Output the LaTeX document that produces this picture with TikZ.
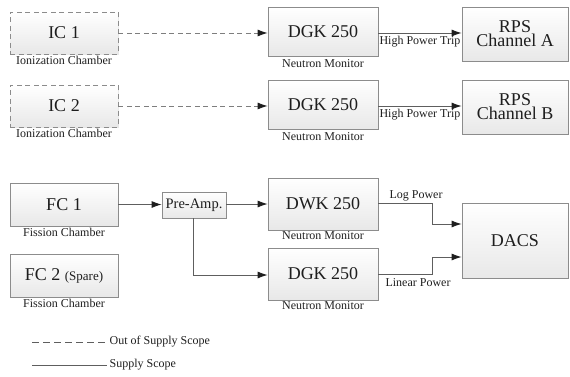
\documentclass[tikz,border=0pt]{standalone}
\usepackage{fontspec}
\setmainfont{Liberation Serif}
\newfontfamily\bigserif[Scale=1.5]{Liberation Serif}
\usetikzlibrary{arrows.meta,shadows,positioning}
\definecolor{boxline}{HTML}{8C8C8C}
\definecolor{conn}{HTML}{5E5E5E}
\definecolor{txt}{HTML}{1E1E1E}
\definecolor{shd}{HTML}{D2D2D2}
\tikzset{
  blk/.style={draw=boxline, line width=0.8pt, top color=white, bottom color=black!9,
    drop shadow={shadow xshift=1.2pt, shadow yshift=-1.2pt, fill=shd},
    text=txt, font=\bigserif\fontsize{12}{14}\selectfont, align=center, inner sep=0pt},
  dblk/.style={blk, dashed, dash pattern=on 5pt off 3.5pt},
  sub/.style={text=txt, font=\rmfamily\fontsize{12}{13}\selectfont, inner sep=0.5pt},
  sol/.style={draw=conn, line width=0.9pt, -{Latex[length=10pt,width=7pt,color=txt]}},
  dsh/.style={sol, dash pattern=on 5pt off 3.5pt, draw=boxline!90!black},
}
\begin{document}
\begin{tikzpicture}[x=1pt,y=-1pt]
\useasboundingbox (0,0) rectangle (570,377);
% boxes
\node[dblk, minimum width=108pt, minimum height=42pt] (ic1) at (64,33) {IC 1};
\node[dblk, minimum width=108pt, minimum height=42pt] (ic2) at (64,106) {IC 2};
\node[blk, minimum width=110pt, minimum height=49pt] (dgk1) at (323,31.5) {DGK 250};
\node[blk, minimum width=110pt, minimum height=49pt] (dgk2) at (323,104.5) {DGK 250};
\node[blk, minimum width=106pt, minimum height=54pt] (rpsa) at (515,34) {RPS\\Channel A};
\node[blk, minimum width=106pt, minimum height=54pt] (rpsb) at (515,107) {RPS\\Channel B};
\node[blk, minimum width=108pt, minimum height=43pt] (fc1) at (64,204.5) {FC 1};
\node[blk, minimum width=108pt, minimum height=43pt] (fc2) at (64,275.5) {FC 2 {\rmfamily\fontsize{13}{15}\selectfont(Spare)}};
\node[blk, minimum width=64pt, minimum height=26pt, font=\rmfamily\fontsize{14.5}{16}\selectfont] (pre) at (194,205) {Pre-Amp.};
\node[blk, minimum width=110pt, minimum height=52pt] (dwk) at (323,204) {DWK 250};
\node[blk, minimum width=110pt, minimum height=52pt] (dgk3) at (323,274) {DGK 250};
\node[blk, minimum width=106pt, minimum height=75pt] (dacs) at (515,240.5) {DACS};
% sub labels
\node[sub, below=1.5pt of ic1] (ic1l) {Ionization Chamber};
\node[sub, below=1.5pt of ic2] (ic2l) {Ionization Chamber};
\node[sub, below=2pt of dgk1] (dgk1l) {Neutron Monitor};
\node[sub, below=2pt of dgk2] (dgk2l) {Neutron Monitor};
\node[sub, below=1.5pt of fc1] (fc1l) {Fission Chamber};
\node[sub, below=1.5pt of fc2] (fc2l) {Fission Chamber};
\node[sub, below=0pt of dwk] (dwkl) {Neutron Monitor};
\node[sub, below=0pt of dgk3] (dgk3l) {Neutron Monitor};
% connectors
\draw[dsh] (ic1.east |- 0,33) -- (dgk1.west |- 0,33);
\draw[dsh] (ic2.east |- 0,106) -- (dgk2.west |- 0,106);
\draw[sol] (dgk1.east |- 0,33) -- node[sub, below=2pt] (hpt1) {High Power Trip} (rpsa.west |- 0,33);
\draw[sol] (dgk2.east |- 0,106) -- node[sub, below=2pt] (hpt2) {High Power Trip} (rpsb.west |- 0,106);
\draw[sol] (fc1.east) -- (pre.west |- fc1.east);
\draw[sol] (pre.east |- 0,204) -- (dwk.west |- 0,204);
\coordinate (pb) at (193,218);
\draw[sol] (pre.south -| pb) |- (dgk3.west |- 0,275);
\coordinate (j1) at (432,224);
\coordinate (j2) at (432,257);
\draw[sol] (dwk.east |- 0,203) -| (j1) -- (j1 -| dacs.west);
\draw[sol] (dgk3.east |- 0,274) -| (j2) -- (j2 -| dacs.west);
\node[sub] (logp) at (416,196) {Log Power};
\node[sub] (linp) at (418,283) {Linear Power};
% legend
\coordinate (l1a) at (32,342);
\coordinate (l1b) at (109,342);
\coordinate (l2a) at (32,365);
\coordinate (l2b) at (107,365);
\draw[draw=conn, line width=0.9pt, dash pattern=on 6.5pt off 4.5pt] (l1a) -- (l1b);
\draw[draw=conn, line width=0.9pt] (l2a) -- (l2b);
\node[sub, anchor=west] (leg1) at (l1b) {Out of Supply Scope};
\node[sub, anchor=west] (leg2) at ([xshift=2pt]l2b) {Supply Scope};
\end{tikzpicture}
\end{document}
